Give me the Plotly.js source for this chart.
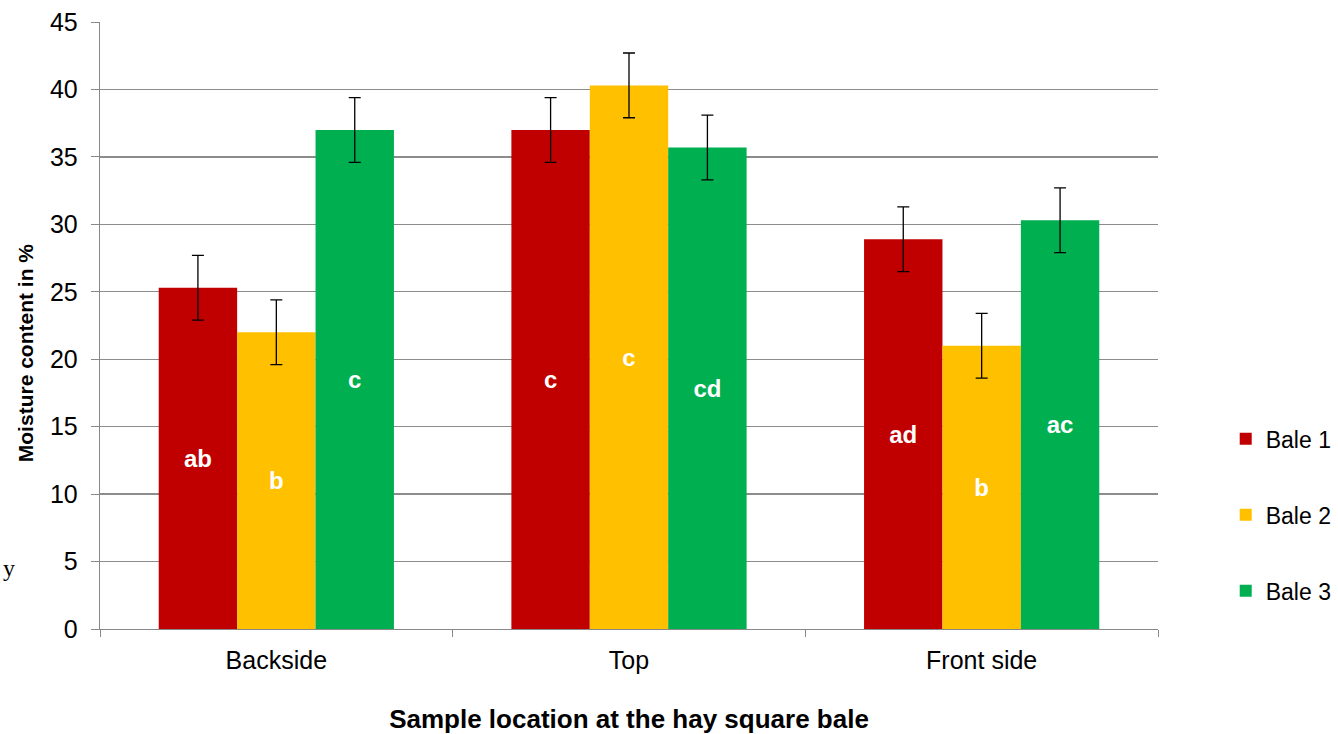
<!DOCTYPE html>
<html>
<head>
<meta charset="utf-8">
<script src="https://cdn.plot.ly/plotly-3.0.1.min.js"></script>
<style>html,body{margin:0;padding:0;background:#fff;}#chart{width:1338px;height:734px;}</style>
</head>
<body>
<div id="chart"></div>
<script>
var categories = ["Backside", "Top", "Front side"];
var seriesNames = ["Bale 1", "Bale 2", "Bale 3"];
var bale1 = [25.3, 37.0, 28.9];
var bale2 = [22.0, 40.3, 21.0];
var bale3 = [37.0, 35.7, 30.3];
var err1 = [2.4, 2.4, 2.4];
var err2 = [2.4, 2.4, 2.4];
var err3 = [2.4, 2.4, 2.4];
var letters1 = ["ab", "c", "ad"];
var letters2 = ["b", "c", "b"];
var letters3 = ["c", "cd", "ac"];
var colors = ["#C00000", "#FFC000", "#00B050"];
var xTitle = "Sample location at the hay square bale";
var yTitle = "Moisture content in %";

var vals = [bale1, bale2, bale3];
var errs = [err1, err2, err3];
var lets = [letters1, letters2, letters3];

var traces = vals.map(function(v, i){
  return {
    type: 'bar', x: categories, y: v, name: seriesNames[i],
    legendgroup: 'g' + i,
    marker: {color: colors[i], line: {width: 0}},
    error_y: {type: 'data', array: errs[i], visible: true, color: '#000', thickness: 1.3, width: 6},
    text: lets[i], textposition: 'inside', insidetextanchor: 'middle',
    textangle: 0, constraintext: 'none',
    textfont: {family: 'Arial, Liberation Sans', size: 24, color: '#fff', weight: 'bold'},
    hoverinfo: 'none'
  };
});

var layout = {
  width: 1338, height: 734,
  margin: {l: 100, r: 180, t: 22, b: 105, autoexpand: false},
  paper_bgcolor: '#fff', plot_bgcolor: '#fff',
  barmode: 'group', bargap: 0.333, bargroupgap: 0,
  font: {family: 'Arial, Liberation Sans', color: '#000'},
  xaxis: {
    type: 'category', tickson: 'boundaries', ticks: 'outside', ticklen: 7, tickcolor: '#888',
    showline: true, linecolor: '#888', linewidth: 1.3,
    tickfont: {size: 25, color: '#000'}, ticklabelstandoff: 9,
    title: {text: '<b>' + xTitle + '</b>', font: {size: 26}, standoff: 36},
    showgrid: false, zeroline: false, automargin: false
  },
  yaxis: {
    range: [0, 45], dtick: 5, ticks: 'outside', ticklen: 8, tickcolor: '#888',
    showline: true, linecolor: '#888', linewidth: 1.3,
    showgrid: true, gridcolor: '#8c8c8c', gridwidth: 1.3, zeroline: false,
    tickfont: {size: 25, color: '#000'}, ticklabelstandoff: 8, automargin: false
  },
  legend: {
    x: 1.064, y: 0.188, xanchor: 'left', yanchor: 'middle',
    font: {size: 23}, tracegroupgap: 43, traceorder: 'grouped',
    itemwidth: 30
  },
  annotations: [
    {text: '<b>' + yTitle + '</b>', xref: 'paper', yref: 'paper', x: -0.0709, y: 0.456,
     xanchor: 'center', yanchor: 'middle', textangle: -90, showarrow: false,
     font: {size: 21, color: '#000'}},
    {text: 'y', xref: 'paper', yref: 'paper', x: -0.0935, y: 0.1, xanchor: 'left', yanchor: 'middle',
     showarrow: false, font: {family: 'Liberation Serif, Times New Roman', size: 24, color: '#000'}}
  ]
};

Plotly.newPlot('chart', traces, layout, {displayModeBar: false, staticPlot: true});
</script>
</body>
</html>
